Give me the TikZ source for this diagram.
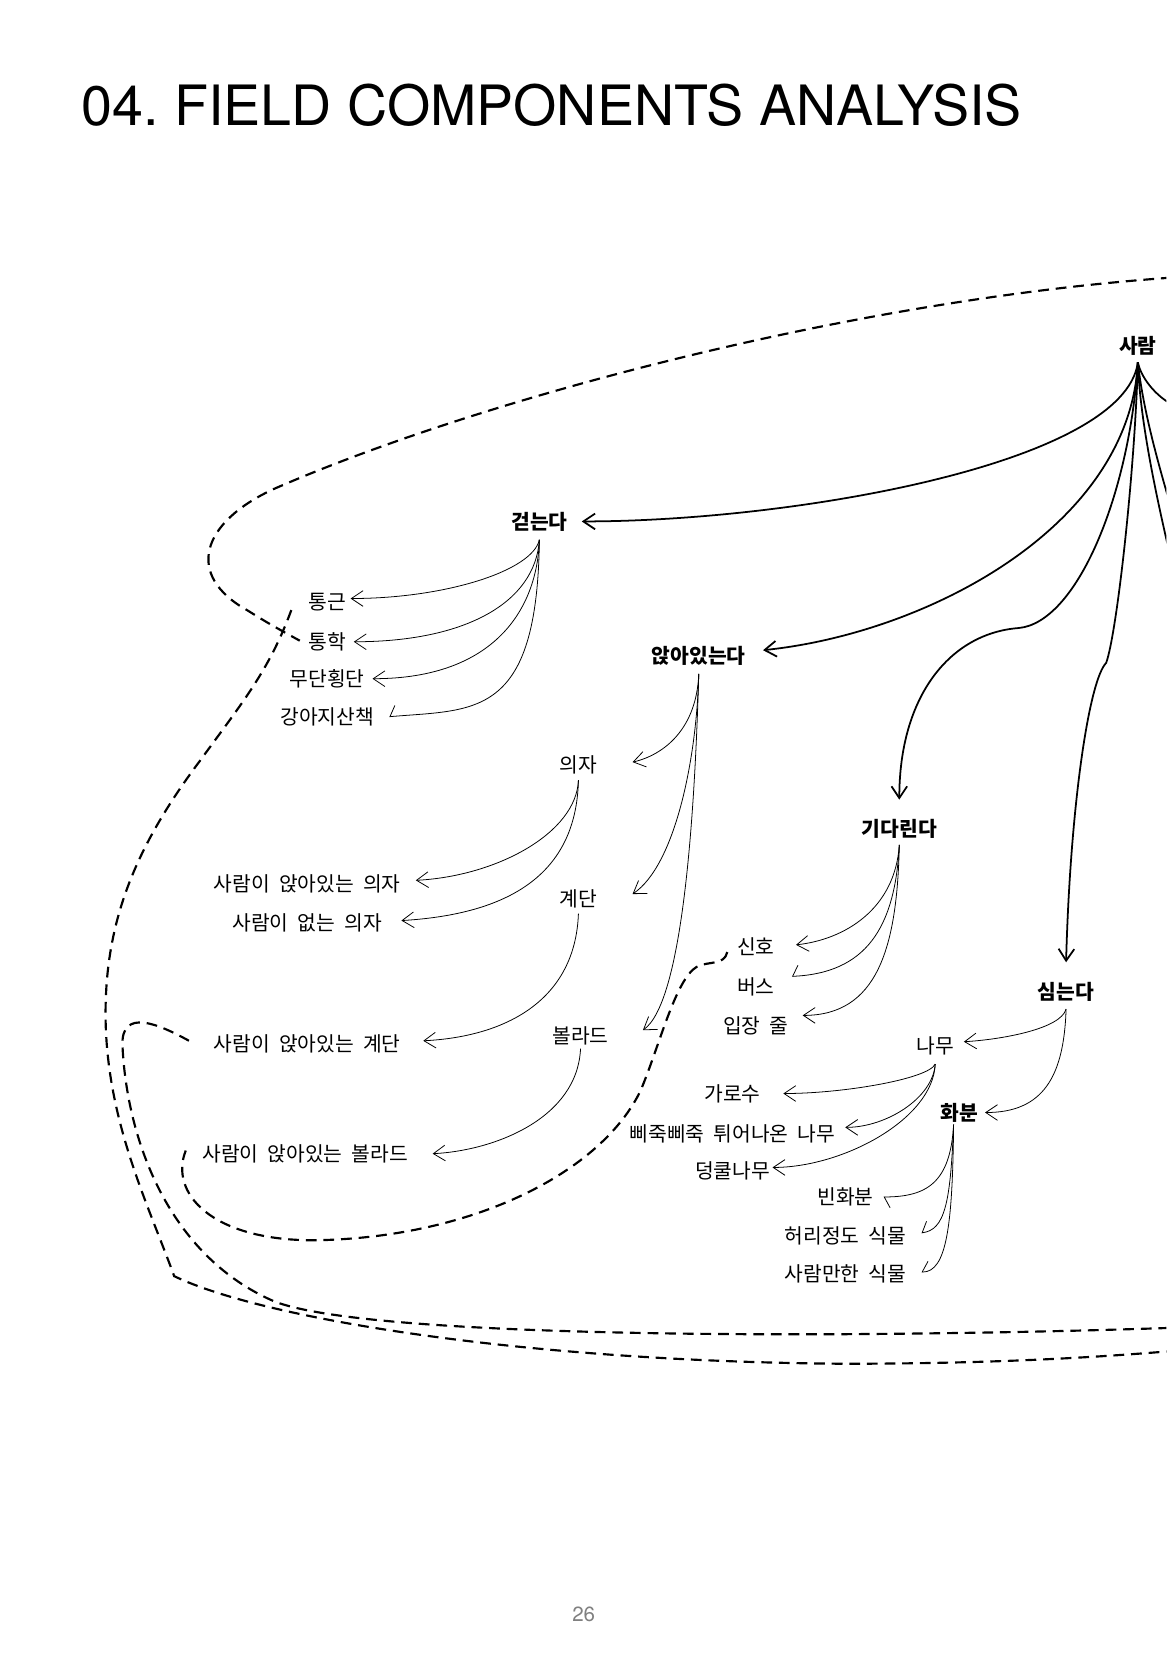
\documentclass[tikz,border=0pt]{standalone}
\usepackage{fontspec}
\setmainfont{TeX Gyre Heros}
\newfontfamily\kr[WordSpace=2.0]{Noto Sans CJK KR}
\usetikzlibrary{arrows.meta}
\tikzset{
	item/.style={rectangle, inner sep=0pt, font=\kr\fontsize{10.4}{12}\selectfont},
	verb/.style={item, font=\kr\bfseries\fontsize{10.4}{12}\selectfont},
	mainarrow/.style={line width=0.9pt, -{Straight Barb[length=6pt,width=8pt]}},
	branch/.style={line width=0.9pt},
	subarrow/.style={line width=0.4pt, -{Straight Barb[length=6pt,width=8pt]}},
	halfup/.style={line width=0.4pt, -{Straight Barb[harpoon,swap,length=3pt,width=11pt]}},
	halfdown/.style={line width=0.4pt, -{Straight Barb[harpoon,length=3pt,width=11pt]}},
	loopline/.style={line width=1.1pt, dash pattern=on 5.5pt off 3.5pt},
}
\begin{document}
\frenchspacing
\begin{tikzpicture}[x=0.018953cm, y=-0.018953cm]
			\fill[white] (0,0) rectangle (1105,1567);
			\useasboundingbox (0,0) rectangle (1105,1567);
			\clip (0,0) rectangle (1105,1567);
			\node[anchor=base west, inner sep=0pt, font=\fontsize{28.4}{32}\selectfont] (title) at (77,118.5) {04. FIELD COMPONENTS ANALYSIS};
			\node[anchor=base, inner sep=0pt, text=black!50, font=\fontsize{10.5}{12}\selectfont] (page) at (553,1536) {26};

			\node[verb] (person) at (1078,328) {사람};
			\node[verb] (walk) at (511,494) {걷는다};
			\node[item] (commute) at (310,570) {통근};
			\node[item] (school) at (310,608) {통학};
			\node[item] (jaywalk) at (310,643) {무단횡단};
			\node[item] (dogwalk) at (310,679) {강아지산책};
			\node[verb] (sit) at (662,621) {앉아있는다};
			\node[item] (chair) at (548,725) {의자};
			\node[item] (chair-sit) at (291,837) {사람이 앉아있는 의자};
			\node[item] (chair-empty) at (291,874) {사람이 없는 의자};
			\node[item] (stair) at (548,852) {계단};
			\node[item] (stair-sit) at (291,989) {사람이 앉아있는 계단};
			\node[item] (bollard) at (550,981) {볼라드};
			\node[item] (bollard-sit) at (289,1093) {사람이 앉아있는 볼라드};
			\node[verb] (wait) at (852,785) {기다린다};
			\node[item] (signal) at (716,897) {신호};
			\node[item] (bus) at (716,935) {버스};
			\node[item] (queue) at (716,972) {입장 줄};
			\node[verb] (plant) at (1010,940) {심는다};
			\node[item] (tree) at (886,991) {나무};
			\node[item] (street) at (694,1036) {가로수};
			\node[item] (spiky) at (694,1074) {삐죽삐죽 튀어나온 나무};
			\node[item] (vine) at (694,1109) {덩쿨나무};
			\node[verb] (pot) at (909,1054) {화분};
			\node[item] (empty-pot) at (801,1134) {빈화분};
			\node[item] (waist) at (801,1171) {허리정도 식물};
			\node[item] (tall) at (801,1207) {사람만한 식물};

			\coordinate (wait-bend) at (965,595);
			\coordinate (plant-bend) at (1048,628);
			\coordinate (edge-a) at (1112,384);
			\coordinate (edge-b) at (1108,476);
			\coordinate (edge-c) at (1108,524);

			\draw[mainarrow] ([yshift=-3.2pt]person.south) .. controls +(-13,96) and +(200,0) .. ([xshift=7.1pt]walk.east);
			\draw[mainarrow] ([yshift=-3.2pt]person.south) .. controls +(-8,156) and +(155,-16) .. ([xshift=8.7pt,yshift=2.7pt]sit.east);
			\draw[mainarrow] ([yshift=-3.2pt]person.south) .. controls +(-8,126) and +(55,-5) .. (wait-bend) .. controls +(-65,5) and +(0,-98) .. ([yshift=9.7pt]wait.north);
			\draw[mainarrow] ([yshift=-3.2pt]person.south) .. controls +(-3,106) and +(10,-28) .. (plant-bend) .. controls +(-16,16) and +(4,-150) .. ([yshift=10.2pt]plant.north);
			\draw[branch] ([yshift=-3.2pt]person.south) .. controls +(4,18) and +(-13,-6) .. (edge-a);
			\draw[branch] ([yshift=-3.2pt]person.south) .. controls +(5,46) and +(-10,-35) .. (edge-b);
			\draw[branch] ([yshift=-3.2pt]person.south) .. controls +(2,56) and +(-12,-52) .. (edge-c);

			\draw[subarrow] ([yshift=-4.3pt]walk.south) .. controls +(-7,30) and +(88,0) .. ([xshift=2.2pt,yshift=1.6pt]commute.east);
			\draw[subarrow] ([yshift=-4.3pt]walk.south) .. controls +(-4,60) and +(105,0) .. ([xshift=3.8pt]school.east);
			\draw[subarrow] ([yshift=-4.3pt]walk.south) .. controls +(-2,65) and +(116,0) .. ([xshift=3.8pt]jaywalk.east);
			\draw[halfup] ([yshift=-4.3pt]walk.south) .. controls +(-2,170) and +(81,-7) .. ([xshift=7.6pt]dogwalk.east);

			\draw[subarrow] ([yshift=-4.3pt]sit.south) .. controls +(-2,52) and +(30,-7) .. ([xshift=17.9pt,yshift=1.6pt]chair.east);
			\draw[subarrow] ([yshift=-4.3pt]sit.south) .. controls +(-2,82) and +(40,-27) .. ([xshift=17.9pt,yshift=2.7pt]stair.east);
			\draw[subarrow] ([yshift=-4.3pt]sit.south) .. controls +(-4,142) and +(37,-26) .. ([xshift=17.3pt,yshift=2.7pt]bollard.east);

			\draw[subarrow] ([yshift=-2.7pt]chair.south) .. controls +(-2,50) and +(77,-4) .. ([xshift=7.6pt,yshift=1.6pt]chair-sit.east);
			\draw[subarrow] ([yshift=-2.7pt]chair.south) .. controls +(-2,90) and +(101,-6) .. ([xshift=9.8pt,yshift=1pt]chair-empty.east);
			\draw[subarrow] ([yshift=-2.4pt]stair.south) .. controls +(-3,81) and +(80,-4) .. ([xshift=11.4pt,yshift=1.6pt]stair-sit.east);
			\draw[subarrow] ([yshift=-1.8pt]bollard.south) .. controls +(-3,66) and +(59,-3) .. ([xshift=12.5pt]bollard-sit.east);

			\draw[subarrow] ([yshift=-3.2pt]wait.south) .. controls +(-4,61) and +(46,-5) .. ([xshift=10.8pt,yshift=1pt]signal.east);
			\draw[halfup] ([yshift=-3.2pt]wait.south) .. controls +(-4,79) and +(70,-3) .. ([xshift=8.7pt,yshift=5.4pt]bus.east);
			\draw[subarrow] ([yshift=-3.2pt]wait.south) .. controls +(-2,99) and +(70,0) .. ([xshift=7.1pt,yshift=5.4pt]queue.east);

			\draw[subarrow] ([yshift=-3.5pt]plant.south) .. controls +(-5,19) and +(35,-2) .. ([xshift=4.9pt,yshift=2.2pt]tree.east);
			\draw[subarrow] ([yshift=-3.5pt]plant.south) .. controls +(-2,64) and +(55,0) .. ([xshift=3.3pt]pot.east);

			\draw[subarrow] ([yshift=-4.3pt]tree.south) .. controls +(-6,14) and +(57,0) .. ([xshift=11.4pt]street.east);
			\draw[subarrow] ([yshift=-4.3pt]tree.south) .. controls +(-2,32) and +(39,0) .. ([xshift=4.9pt,yshift=3.2pt]spiky.east);
			\draw[subarrow] ([yshift=-4.3pt]tree.south) .. controls +(-2,52) and +(67,0) .. ([xshift=1.1pt,yshift=1.6pt]vine.east);

			\draw[halfdown] ([xshift=-3pt,yshift=-1.1pt]pot.south) .. controls +(-3,55) and +(41,0) .. ([xshift=4.9pt]empty-pot.east);
			\draw[halfup] ([xshift=-3pt,yshift=-1.1pt]pot.south) .. controls +(-3,75) and +(22,-3) .. ([xshift=7.6pt,yshift=1.6pt]waist.east);
			\draw[halfup] ([xshift=-3pt,yshift=-1.1pt]pot.south) .. controls +(-1,95) and +(24,0) .. ([xshift=7.6pt,yshift=1pt]tall.east);

			\draw[loopline] (1110,263) .. controls (800,285) and (450,380) .. (260,463) .. controls (190,495) and (175,545) .. (234,578) .. controls (255,591) .. (284,607);
			\draw[loopline] (276,578) .. controls (255,635) and (230,665) .. (190,720) .. controls (130,800) and (100,870) .. (100,960) .. controls (100,1060) and (140,1140) .. (165,1209) .. controls (250,1250) and (500,1290) .. (800,1292) .. controls (950,1292) and (1050,1285) .. (1110,1280);
			\draw[loopline] (179,986) .. controls (150,970) and (115,955) .. (116,990) .. controls (120,1080) and (160,1190) .. (260,1233) .. controls (330,1260) and (600,1265) .. (800,1264) .. controls (950,1263) and (1050,1260) .. (1110,1258);
			\draw[loopline] (689,902) .. controls (686,915) and (672,910) .. (660,916) .. controls (640,928) and (625,990) .. (607,1033) .. controls (570,1110) and (450,1172) .. (300,1175) .. controls (200,1176) and (160,1130) .. (176,1090);
		\end{tikzpicture}
\end{document}
